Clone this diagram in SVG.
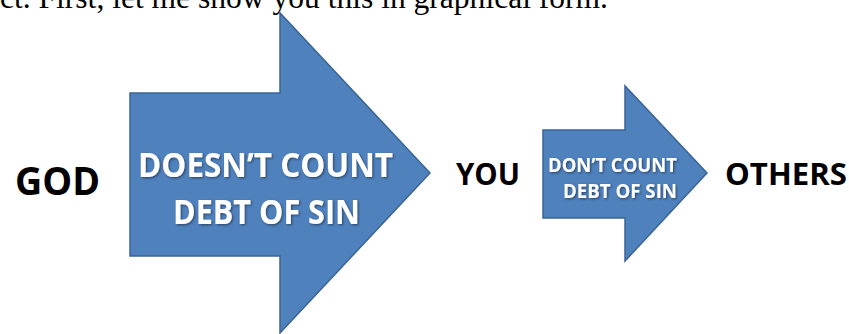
<svg xmlns="http://www.w3.org/2000/svg" width="849" height="334" viewBox="0 0 849 334">
  <defs>
    <filter id="ts" x="-10%" y="-30%" width="120%" height="160%">
      <feDropShadow dx="1.2" dy="1.2" stdDeviation="0.8" flood-color="#000" flood-opacity="0.45"/>
    </filter>
  </defs>
  <style>
    .arrow { fill: #4F81BD; stroke: #3A6496; stroke-width: 1.5; stroke-linejoin: miter; }
    .lbl { font-family: "Open Sans", "Liberation Sans", sans-serif; font-weight: 700; fill: #000; }
    .in { font-family: "Open Sans", "Liberation Sans", sans-serif; font-weight: 700; fill: #fff; filter: url(#ts); }
    .body { font-family: "Liberation Serif", "Times New Roman", serif; fill: #000; }
  </style>
  <rect width="849" height="334" fill="#fff"/>
  <text class="body" x="0" y="8" font-size="31" textLength="608" lengthAdjust="spacingAndGlyphs">ct. First, let me show you this in graphical form.</text>

  <g id="god">
    <text class="lbl" x="15" y="195" font-size="39" textLength="85" lengthAdjust="spacingAndGlyphs">GOD</text>
  </g>

  <g id="arrow-big">
    <polygon class="arrow" points="130,93 280,93 280,13 430,173 280,333 280,256 130,256"/>
    <text class="in" x="138" y="177" font-size="34" textLength="255" lengthAdjust="spacingAndGlyphs">DOESN’T COUNT</text>
    <text class="in" x="173" y="224" font-size="34" textLength="187" lengthAdjust="spacingAndGlyphs">DEBT OF SIN</text>
  </g>

  <g id="you">
    <text class="lbl" x="456" y="185" font-size="31" textLength="64" lengthAdjust="spacingAndGlyphs">YOU</text>
  </g>

  <g id="arrow-small">
    <polygon class="arrow" points="543,130 625,130 625,86 707,173 625,261 625,218 543,218"/>
    <text class="in" x="548" y="172" font-size="20" textLength="129" lengthAdjust="spacingAndGlyphs">DON’T COUNT</text>
    <text class="in" x="563" y="198" font-size="20" textLength="114" lengthAdjust="spacingAndGlyphs">DEBT OF SIN</text>
  </g>

  <g id="others">
    <text class="lbl" x="725" y="185" font-size="31" textLength="122" lengthAdjust="spacingAndGlyphs">OTHERS</text>
  </g>

  <g id="connectors"></g>
</svg>
